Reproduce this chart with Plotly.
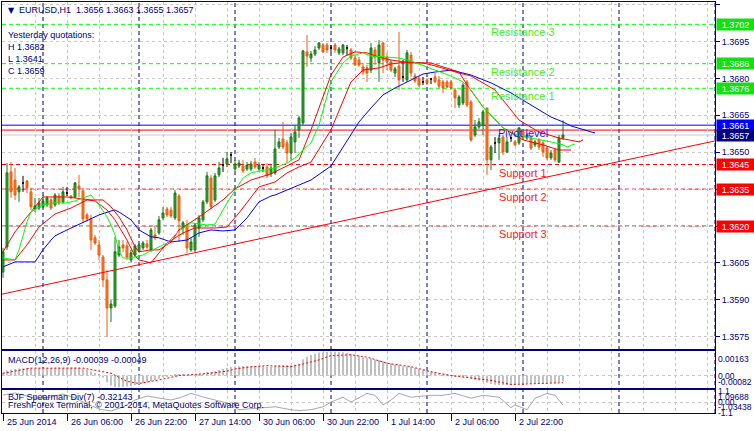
import plotly.graph_objects as go
from datetime import datetime, timedelta

# ---------------- data (EURUSD H1) ----------------
opens = [1.36013, 1.36115, 1.36420, 1.36387, 1.36339, 1.36375, 1.36383, 1.36339, 1.36269, 1.36273,
         1.36278, 1.36286, 1.36306, 1.36286, 1.36322, 1.36298, 1.36334, 1.36322, 1.36318, 1.36363,
         1.36343, 1.36245, 1.36229, 1.36152, 1.36123, 1.36074, 1.35981, 1.35867, 1.35875, 1.36082,
         1.36123, 1.36119, 1.36062, 1.36082, 1.36099, 1.36111, 1.36127, 1.36103, 1.36164, 1.36172,
         1.36233, 1.36269, 1.36265, 1.36233, 1.36322, 1.36192, 1.36204, 1.36103, 1.36103, 1.36192,
         1.36225, 1.36298, 1.36395, 1.36306, 1.36408, 1.36448, 1.36452, 1.36489, 1.36432, 1.36444,
         1.36444, 1.36432, 1.36432, 1.36460, 1.36432, 1.36436, 1.36440, 1.36412, 1.36416, 1.36521,
         1.36554, 1.36538, 1.36497, 1.36542, 1.36591, 1.36619, 1.36908, 1.36883, 1.36899, 1.36924,
         1.36936, 1.36936, 1.36924, 1.36936, 1.36904, 1.36904, 1.36924, 1.36916, 1.36883, 1.36875,
         1.36847, 1.36843, 1.36834, 1.36916, 1.36863, 1.36944, 1.36887, 1.36867, 1.36822, 1.36851,
         1.36806, 1.36794, 1.36895, 1.36810, 1.36802, 1.36786, 1.36794, 1.36798, 1.36806, 1.36794,
         1.36786, 1.36786, 1.36786, 1.36753, 1.36692, 1.36700, 1.36786, 1.36704, 1.36570, 1.36603,
         1.36611, 1.36680, 1.36469, 1.36538, 1.36538, 1.36562, 1.36501, 1.36558, 1.36542, 1.36538,
         1.36582, 1.36558, 1.36558, 1.36530, 1.36550, 1.36538, 1.36517, 1.36477, 1.36509, 1.36460,
         1.36560]
highs = [1.36111, 1.36456, 1.36460, 1.36436, 1.36367, 1.36404, 1.36387, 1.36355, 1.36314, 1.36314,
         1.36326, 1.36322, 1.36314, 1.36334, 1.36334, 1.36359, 1.36359, 1.36326, 1.36379, 1.36408,
         1.36355, 1.36253, 1.36245, 1.36164, 1.36143, 1.36082, 1.36021, 1.35899, 1.36156, 1.36143,
         1.36143, 1.36135, 1.36103, 1.36127, 1.36131, 1.36139, 1.36143, 1.36192, 1.36204, 1.36241,
         1.36278, 1.36278, 1.36278, 1.36347, 1.36330, 1.36221, 1.36225, 1.36152, 1.36213, 1.36245,
         1.36306, 1.36420, 1.36408, 1.36416, 1.36460, 1.36477, 1.36501, 1.36501, 1.36469, 1.36469,
         1.36469, 1.36460, 1.36465, 1.36477, 1.36460, 1.36452, 1.36456, 1.36448, 1.36591, 1.36558,
         1.36623, 1.36550, 1.36578, 1.36611, 1.36647, 1.36916, 1.36977, 1.36912, 1.36932, 1.36948,
         1.36944, 1.36944, 1.36936, 1.36944, 1.36928, 1.36940, 1.36936, 1.36924, 1.36895, 1.36887,
         1.36863, 1.36855, 1.36944, 1.36928, 1.36956, 1.36948, 1.36904, 1.36875, 1.36847, 1.36989,
         1.36875, 1.36916, 1.36908, 1.36822, 1.36806, 1.36806, 1.36802, 1.36802, 1.36822, 1.36810,
         1.36794, 1.36794, 1.36794, 1.36761, 1.36733, 1.36782, 1.36794, 1.36712, 1.36631, 1.36639,
         1.36672, 1.36680, 1.36530, 1.36562, 1.36570, 1.36570, 1.36562, 1.36562, 1.36550, 1.36603,
         1.36591, 1.36578, 1.36570, 1.36550, 1.36558, 1.36550, 1.36525, 1.36509, 1.36517, 1.36570,
         1.36630]
lows = [1.35989, 1.36103, 1.36314, 1.36306, 1.36298, 1.36339, 1.36334, 1.36265, 1.36257, 1.36265,
        1.36273, 1.36278, 1.36265, 1.36278, 1.36286, 1.36290, 1.36322, 1.36310, 1.36314, 1.36318,
        1.36213, 1.36217, 1.36103, 1.36123, 1.36062, 1.35952, 1.35749, 1.35810, 1.35867, 1.36074,
        1.36095, 1.36062, 1.36054, 1.36074, 1.36091, 1.36103, 1.36107, 1.36095, 1.36143, 1.36164,
        1.36225, 1.36237, 1.36233, 1.36225, 1.36135, 1.36164, 1.36091, 1.36095, 1.36091, 1.36156,
        1.36217, 1.36290, 1.36269, 1.36298, 1.36399, 1.36420, 1.36440, 1.36456, 1.36424, 1.36436,
        1.36416, 1.36424, 1.36424, 1.36432, 1.36424, 1.36420, 1.36395, 1.36399, 1.36408, 1.36513,
        1.36513, 1.36456, 1.36469, 1.36497, 1.36558, 1.36611, 1.36847, 1.36867, 1.36891, 1.36916,
        1.36904, 1.36904, 1.36908, 1.36904, 1.36895, 1.36895, 1.36895, 1.36875, 1.36851, 1.36847,
        1.36814, 1.36786, 1.36822, 1.36855, 1.36786, 1.36822, 1.36834, 1.36826, 1.36806, 1.36753,
        1.36786, 1.36786, 1.36806, 1.36782, 1.36765, 1.36773, 1.36773, 1.36777, 1.36782, 1.36761,
        1.36741, 1.36761, 1.36753, 1.36680, 1.36680, 1.36692, 1.36684, 1.36542, 1.36562, 1.36595,
        1.36570, 1.36408, 1.36428, 1.36497, 1.36469, 1.36489, 1.36497, 1.36542, 1.36525, 1.36530,
        1.36550, 1.36550, 1.36509, 1.36521, 1.36509, 1.36481, 1.36469, 1.36469, 1.36460, 1.36456,
        1.36550]
closes = [1.36095, 1.36416, 1.36339, 1.36326, 1.36359, 1.36375, 1.36355, 1.36278, 1.36282, 1.36294,
          1.36302, 1.36314, 1.36273, 1.36326, 1.36294, 1.36339, 1.36334, 1.36314, 1.36375, 1.36351,
          1.36229, 1.36229, 1.36143, 1.36131, 1.36082, 1.35981, 1.35867, 1.35883, 1.36095, 1.36115,
          1.36111, 1.36074, 1.36091, 1.36119, 1.36123, 1.36131, 1.36115, 1.36184, 1.36152, 1.36225,
          1.36253, 1.36245, 1.36241, 1.36334, 1.36221, 1.36213, 1.36111, 1.36135, 1.36204, 1.36233,
          1.36298, 1.36404, 1.36278, 1.36404, 1.36436, 1.36448, 1.36473, 1.36489, 1.36452, 1.36456,
          1.36424, 1.36448, 1.36452, 1.36440, 1.36448, 1.36436, 1.36404, 1.36436, 1.36513, 1.36542,
          1.36521, 1.36497, 1.36562, 1.36582, 1.36639, 1.36912, 1.36891, 1.36899, 1.36916, 1.36944,
          1.36908, 1.36916, 1.36924, 1.36916, 1.36920, 1.36936, 1.36924, 1.36883, 1.36855, 1.36855,
          1.36826, 1.36822, 1.36924, 1.36887, 1.36936, 1.36875, 1.36867, 1.36834, 1.36839, 1.36794,
          1.36806, 1.36904, 1.36822, 1.36790, 1.36773, 1.36786, 1.36782, 1.36798, 1.36786, 1.36769,
          1.36761, 1.36765, 1.36761, 1.36721, 1.36725, 1.36773, 1.36692, 1.36550, 1.36603, 1.36623,
          1.36664, 1.36469, 1.36521, 1.36538, 1.36558, 1.36501, 1.36542, 1.36558, 1.36530, 1.36599,
          1.36558, 1.36570, 1.36517, 1.36542, 1.36521, 1.36501, 1.36477, 1.36497, 1.36469, 1.36558,
          1.36570]

# Alligator-style moving averages (bar index, value)
blue_i = [0, 3, 8, 10, 12, 13, 16, 20, 24, 27, 28, 29, 32, 34, 37, 39, 42, 46, 49, 52, 55, 58, 61, 64,
          67, 68, 71, 74, 77, 82, 85, 88, 89, 92, 95, 98, 102, 105, 108, 112, 117, 122, 127, 132, 137,
          140, 142, 148]
blue_v = [1.36034, 1.36054, 1.36054, 1.36103, 1.36143, 1.36160, 1.36184, 1.36213, 1.36245, 1.36261,
          1.36265, 1.36257, 1.36225, 1.36184, 1.36156, 1.36152, 1.36135, 1.36143, 1.36172, 1.36184,
          1.36180, 1.36184, 1.36233, 1.36298, 1.36322, 1.36326, 1.36347, 1.36367, 1.36387, 1.36444,
          1.36521, 1.36599, 1.36623, 1.36680, 1.36733, 1.36761, 1.36794, 1.36818, 1.36826, 1.36834,
          1.36814, 1.36782, 1.36741, 1.36692, 1.36643, 1.36623, 1.36607, 1.36578]
red_slow_i = [0, 3, 5, 6, 9, 13, 17, 21, 23, 26, 28, 31, 33, 34, 37, 41, 45, 48, 53, 56, 59, 62, 64, 68,
              71, 74, 77, 82, 85, 87, 90, 94, 97, 101, 105, 108, 114, 117, 123, 129, 134, 139, 144, 145]
red_slow_v = [1.36062, 1.36062, 1.36103, 1.36123, 1.36196, 1.36249, 1.36273, 1.36306, 1.36302, 1.36265,
              1.36225, 1.36143, 1.36078, 1.36062, 1.36050, 1.36131, 1.36172, 1.36192, 1.36192, 1.36196,
              1.36253, 1.36318, 1.36359, 1.36379, 1.36416, 1.36440, 1.36460, 1.36591, 1.36712, 1.36786,
              1.36834, 1.36843, 1.36859, 1.36867, 1.36863, 1.36851, 1.36822, 1.36810, 1.36753, 1.36631,
              1.36582, 1.36558, 1.36542, 1.36550]
red_fast_i = [0, 2, 3, 6, 10, 16, 22, 25, 27, 29, 31, 33, 34, 37, 39, 42, 44, 49, 55, 58, 62, 67, 74, 77,
              80, 82, 85, 88, 91, 94, 97, 102, 107, 111, 114, 116, 120, 125, 130, 135, 139, 142]
red_fast_v = [1.36095, 1.36152, 1.36176, 1.36237, 1.36318, 1.36318, 1.36306, 1.36306, 1.36278, 1.36237,
              1.36184, 1.36115, 1.36095, 1.36103, 1.36103, 1.36135, 1.36184, 1.36237, 1.36306, 1.36351,
              1.36387, 1.36412, 1.36469, 1.36591, 1.36725, 1.36814, 1.36887, 1.36908, 1.36904, 1.36887,
              1.36875, 1.36863, 1.36863, 1.36843, 1.36826, 1.36774, 1.36684, 1.36599, 1.36550, 1.36530,
              1.36509, 1.36509]
green_i = [0, 3, 4, 5, 6, 7, 10, 13, 16, 18, 21, 22, 24, 26, 27, 28, 29, 30, 32, 35, 37, 41, 44, 47, 51,
           53, 56, 58, 60, 62, 66, 68, 71, 73, 75, 77, 79, 81, 82, 85, 87, 90, 92, 96, 99, 102, 106, 109,
           112, 115, 117, 120, 122, 125, 128, 132, 135, 137, 140, 141, 143]
green_v = [1.36070, 1.36062, 1.36103, 1.36164, 1.36217, 1.36257, 1.36286, 1.36294, 1.36294, 1.36302,
           1.36322, 1.36326, 1.36286, 1.36237, 1.36204, 1.36164, 1.36095, 1.36070, 1.36070, 1.36082,
           1.36099, 1.36131, 1.36180, 1.36213, 1.36204, 1.36208, 1.36294, 1.36347, 1.36395, 1.36416,
           1.36428, 1.36436, 1.36456, 1.36477, 1.36509, 1.36538, 1.36611, 1.36725, 1.36786, 1.36863,
           1.36891, 1.36904, 1.36891, 1.36887, 1.36883, 1.36871, 1.36847, 1.36826, 1.36810, 1.36786,
           1.36753, 1.36684, 1.36652, 1.36599, 1.36574, 1.36558, 1.36550, 1.36542, 1.36530, 1.36521,
           1.36534]

# trend line (bar index, price)
trend_i = [-0.25, 178.0]
trend_v = [1.35923, 1.36546]

# pivot levels
res_names = ["Resistance 3", "Resistance 2", "Resistance 1"]
res_levels = [1.3702, 1.3686, 1.3676]
sup_names = ["Support 1", "Support 2", "Support 3"]
sup_levels = [1.3645, 1.3635, 1.3620]
pivot_level = 1.3661
yest_close = 1.3659
bid_price = 1.3657

# MACD(12,26,9)
macd_main = [0.00020, 0.00035, 0.00042, 0.00045, 0.00048, 0.00050, 0.00052, 0.00052, 0.00050, 0.00050,
             0.00050, 0.00052, 0.00052, 0.00053, 0.00054, 0.00054, 0.00054, 0.00055, 0.00055, 0.00054,
             0.00045, 0.00038, 0.00028, 0.00018, 0.00005, -0.00015, -0.00045, -0.00070, -0.00078, -0.00080,
             -0.00078, -0.00075, -0.00072, -0.00066, -0.00060, -0.00055, -0.00048, -0.00038, -0.00030, -0.00022,
             -0.00012, -0.00005, 0.00002, 0.00010, 0.00008, 0.00008, 0.00002, -0.00002, 0.00002, 0.00008,
             0.00015, 0.00024, 0.00022, 0.00030, 0.00038, 0.00045, 0.00052, 0.00058, 0.00062, 0.00064,
             0.00066, 0.00066, 0.00066, 0.00066, 0.00065, 0.00064, 0.00062, 0.00060, 0.00066, 0.00070,
             0.00072, 0.00070, 0.00072, 0.00076, 0.00080, 0.00110, 0.00128, 0.00140, 0.00150, 0.00158,
             0.00160, 0.00162, 0.00163, 0.00163, 0.00162, 0.00160, 0.00156, 0.00150, 0.00142, 0.00135,
             0.00126, 0.00118, 0.00116, 0.00110, 0.00106, 0.00100, 0.00092, 0.00084, 0.00076, 0.00070,
             0.00064, 0.00062, 0.00058, 0.00052, 0.00046, 0.00040, 0.00034, 0.00028, 0.00022, 0.00017,
             0.00012, 0.00006, 0.00002, -0.00004, -0.00010, -0.00012, -0.00016, -0.00024, -0.00030, -0.00034,
             -0.00040, -0.00050, -0.00058, -0.00062, -0.00064, -0.00066, -0.00066, -0.00064, -0.00062, -0.00056,
             -0.00056, -0.00054, -0.00054, -0.00053, -0.00052, -0.00052, -0.00052, -0.00050, -0.00050, -0.00044,
             -0.00039]
sig_i = [0, 7, 20, 27, 31, 34, 39, 44, 51, 56, 58, 62, 66, 72, 74, 79, 82, 87, 91, 96, 102, 107, 112, 117,
         122, 127, 132, 140]
sig_v = [0.00016, 0.00051, 0.00051, 0.00016, -0.00040, -0.00054, -0.00030, 0.00000, 0.00014, 0.00030,
         0.00045, 0.00060, 0.00068, 0.00061, 0.00072, 0.00107, 0.00137, 0.00142, 0.00126, 0.00084,
         0.00061, 0.00026, 0.00000, -0.00016, -0.00033, -0.00061, -0.00056, -0.00049]

# BJF Spearman Div(7)
sp_i = [0, 3, 6, 9, 12, 15, 18, 21, 24, 27, 30, 33, 36, 39, 42, 44, 47, 51, 56, 59, 64, 68, 72, 74, 77,
        80, 82, 85, 87, 91, 93, 95, 97, 99, 102, 107, 110, 113, 117, 120, 124, 127, 128, 131, 133, 136,
        138, 140]
sp_v = [0.7, 0.9, 0.6, 0.3, 0.5, 0.8, 0.4, -0.2, -0.7, -0.9, -0.5, 0.2, 0.6, 0.4, 0.2, 0.4, 0.86, 0.4,
        -0.1, -0.77, -0.57, -0.48, -0.77, -0.86, -0.77, -0.48, 0.0, 0.48, 0.0, 0.86, 0.67, -0.29, 0.19,
        0.86, 0.48, 0.67, 0.67, 0.86, 0.38, 0.67, 0.48, -0.57, -0.29, -0.77, 0.38, 0.86, 0.67, -0.32143]

# ---------------- figure ----------------
W, H = 754, 431
NAVY = "#000080"
GRID = "#C8C8C8"
FONT = "Liberation Sans"


def py(px):
    return (H - px) / H


times = []
t = datetime(2014, 6, 25, 14)
while len(times) < 180:
    if t.weekday() < 5:
        times.append(t)
    t += timedelta(hours=1)

n = len(closes)
idx = list(range(n))
XMAX = 178.0
dom_x = [2 / W, 715 / W]
dom_main = [py(349), py(1.7)]
dom_macd = [py(388), py(351)]
dom_sp = [py(413), py(390)]

fig = go.Figure()

nd = [i for i in idx if opens[i] != closes[i]]
dj = [i for i in idx if opens[i] == closes[i]]
fig.add_trace(go.Candlestick(
    x=nd, open=[opens[i] for i in nd], high=[highs[i] for i in nd],
    low=[lows[i] for i in nd], close=[closes[i] for i in nd],
    increasing=dict(line=dict(color="#177A17", width=1), fillcolor="#34A834"),
    decreasing=dict(line=dict(color="#EE5A10", width=1), fillcolor="#FF7A1C"),
    hoverinfo="skip", xaxis="x", yaxis="y"))
fig.add_trace(go.Candlestick(
    x=dj, open=[opens[i] for i in dj], high=[highs[i] for i in dj],
    low=[lows[i] for i in dj], close=[closes[i] for i in dj],
    increasing=dict(line=dict(color="black", width=1), fillcolor="black"),
    decreasing=dict(line=dict(color="black", width=1), fillcolor="black"),
    hoverinfo="skip", xaxis="x", yaxis="y"))

for xs, ys, col in [(blue_i, blue_v, "#0000FF"), (red_slow_i, red_slow_v, "#FF0000"),
                    (red_fast_i, red_fast_v, "#FF0000"), (green_i, green_v, "#00FF00"),
                    (trend_i, trend_v, "#FF0000")]:
    fig.add_trace(go.Scatter(x=xs, y=ys, mode="lines", line=dict(color=col, width=1),
                             hoverinfo="skip", xaxis="x", yaxis="y"))

fig.add_trace(go.Bar(x=idx, y=macd_main, width=0.3, marker=dict(color="#C0C0C0", line=dict(width=0)),
                     hoverinfo="skip", xaxis="x2", yaxis="y2"))
fig.add_trace(go.Scatter(x=sig_i, y=sig_v, mode="lines", line=dict(color="#FF0000", width=1, dash="2px,2px"),
                         hoverinfo="skip", xaxis="x2", yaxis="y2"))
fig.add_trace(go.Scatter(x=sp_i, y=sp_v, mode="lines", line=dict(color="#A8A8A8", width=1),
                         hoverinfo="skip", xaxis="x3", yaxis="y3"))

# ---------------- axes ----------------
label_idx = [i for i in range(0, n, 16)]
xcommon = dict(domain=dom_x, range=[-0.25, XMAX], showline=True, linecolor=NAVY, linewidth=1, mirror=True,
               tickmode="array", tickvals=label_idx, showgrid=True, gridcolor=GRID, griddash="3px,3px",
               gridwidth=1, zeroline=False,
               minor=dict(tickmode="linear", tick0=0, dtick=8, showgrid=True, gridcolor=GRID,
                          griddash="3px,3px", gridwidth=1, ticks=""))
fig.update_layout(
    xaxis=dict(**xcommon, anchor="y", showticklabels=False, ticks="", rangeslider=dict(visible=False)),
    xaxis2=dict(**xcommon, anchor="y2", matches="x", showticklabels=False, ticks=""),
    xaxis3=dict(**xcommon, anchor="y3", matches="x", showticklabels=False, ticks="outside",
                ticklen=7, tickcolor=NAVY),
    yaxis=dict(domain=dom_main, range=[1.35700, 1.37112], side="right", anchor="x",
               tickmode="linear", tick0=1.3575, dtick=0.0015, tickformat=".4f",
               ticks="outside", ticklen=4, tickcolor=NAVY,
               tickfont=dict(family=FONT, size=9, color=NAVY),
               showgrid=True, gridcolor=GRID, griddash="3px,3px", zeroline=False,
               showline=True, linecolor=NAVY, mirror=True),
    yaxis2=dict(domain=dom_macd, range=[-0.00085, 0.00168], side="right", anchor="x2",
                tickmode="array", tickvals=[0], showticklabels=False, ticks="",
                showgrid=True, gridcolor=GRID, griddash="3px,3px", zeroline=False,
                showline=True, linecolor=NAVY, mirror=True),
    yaxis3=dict(domain=dom_sp, range=[-1.1, 1.2], side="right", anchor="x3",
                tickmode="array", tickvals=[0, 1.1], showticklabels=False, ticks="",
                showgrid=True, gridcolor=GRID, griddash="3px,3px", zeroline=False,
                showline=True, linecolor=NAVY, mirror=True),
    width=W, height=H, margin=dict(l=0, r=0, t=0, b=0),
    paper_bgcolor="white", plot_bgcolor="white", showlegend=False,
    font=dict(family=FONT, size=9, color=NAVY),
)

# ---------------- shapes ----------------
shapes = []
# day separators
for i, tm in enumerate(times):
    if tm.hour == 0 and i <= XMAX:
        shapes.append(dict(type="line", xref="x", yref="paper", x0=i, x1=i, y0=dom_sp[0], y1=dom_main[1],
                           line=dict(color=NAVY, width=1, dash="4px,3px"), layer="below"))
for v in res_levels:
    shapes.append(dict(type="line", xref="x domain", x0=0, x1=1, yref="y", y0=v, y1=v,
                       line=dict(color="#00FF00", width=1, dash="4px,3px"), layer="below"))
for v in sup_levels:
    shapes.append(dict(type="line", xref="x domain", x0=0, x1=1, yref="y", y0=v, y1=v,
                       line=dict(color="#FF0000", width=1, dash="4px,3px"), layer="below"))
shapes.append(dict(type="line", xref="x domain", x0=0, x1=1, yref="y", y0=bid_price, y1=bid_price,
                   line=dict(color="#C8C8C8", width=1), layer="below"))
shapes.append(dict(type="line", xref="x domain", x0=0, x1=1, yref="y", y0=yest_close, y1=yest_close,
                   line=dict(color="#FF0000", width=1), layer="below"))
shapes.append(dict(type="line", xref="x domain", x0=0, x1=1, yref="y", y0=pivot_level, y1=pivot_level,
                   line=dict(color="#0000FF", width=1), layer="below"))
fig.update_layout(shapes=shapes)

# ---------------- annotations ----------------
ann = []


def txt(text, xpx, ypx, size=9, color=NAVY, **kw):
    d = dict(text=text, x=xpx / W, y=py(ypx), xref="paper", yref="paper", xanchor="left",
             yanchor="middle", showarrow=False, font=dict(family=FONT, size=size, color=color))
    d.update(kw)
    ann.append(d)


txt("▼", 6, 10, size=8, font=dict(family="DejaVu Sans", size=8, color=NAVY))
txt("EURUSD,H1  %.4f %.4f %.4f %.4f" % (opens[-1], highs[-1], lows[-1], closes[-1]), 17, 10)
txt("Yesterday quotations:", 6, 35)
txt("H 1.3682", 6, 47)
txt("L 1.3641", 6, 59)
txt("C %.4f" % yest_close, 6, 71)
txt("MACD(12,26,9) %.5f %.5f" % (macd_main[-1], sig_v[-1]), 6, 360)
txt("BJF Spearman Div(7) %.5f" % sp_v[-1], 6, 397)
txt("FreshForex Terminal, © 2001-2014, MetaQuotes Software Corp.", 6, 405)

# pivot labels
label_bar = [i for i, tm in enumerate(times) if tm.hour == 0][5]
for name, v in zip(res_names, res_levels):
    ann.append(dict(text=name, x=label_bar, xref="x", y=v, yref="y", xanchor="center", yanchor="top",
                    showarrow=False, font=dict(family=FONT, size=11, color="#44EE22")))
ann.append(dict(text="Pivot level", x=label_bar, xref="x", y=pivot_level, yref="y", xanchor="center",
                yanchor="top", showarrow=False, font=dict(family=FONT, size=11, color="#2020FF")))
for name, v in zip(sup_names, sup_levels):
    ann.append(dict(text=name, x=label_bar, xref="x", y=v, yref="y", xanchor="center", yanchor="top",
                    showarrow=False, font=dict(family=FONT, size=11, color="#FF2020")))

# price boxes on the right scale
boxes = [(v, "#11E011") for v in res_levels] + [(pivot_level, "#0000FF"), (bid_price, NAVY)] + \
        [(v, "#FF0000") for v in sup_levels]
for v, c in boxes:
    ann.append(dict(text="%.4f" % v, x=716 / W, xref="paper", y=v, yref="y", xanchor="left",
                    yanchor="middle", showarrow=False, bgcolor=c, width=37, height=11, borderpad=0,
                    align="center", font=dict(family=FONT, size=9, color="white")))

# sub-panel scale labels
for text, v, ys in [("0.00163", 0.00163, -7), ("0.00", 0.0, 0), ("-0.00082", -0.00082, 6)]:
    ann.append(dict(text=text, x=716 / W, xref="paper", y=v, yref="y2", yshift=ys, xanchor="left",
                    yanchor="middle", showarrow=False, font=dict(family=FONT, size=8.5, color=NAVY)))
for text, v, ys in [("1.1", 1.1, 0), ("1.09688", 1.09688, -6), ("0.00", 0.0, 0),
                    ("-1.03438", -1.03438, 5), ("-1.1", -1.1, 0)]:
    ann.append(dict(text=text, x=716 / W, xref="paper", y=v, yref="y3", yshift=ys, xanchor="left",
                    yanchor="middle", showarrow=False, font=dict(family=FONT, size=8.5, color=NAVY)))

# time labels
for i in label_idx:
    tm = times[i]
    lab = tm.strftime("%d %b %Y").lstrip("0") if i == 0 else "%d %s" % (tm.day, tm.strftime("%b %H:%M"))
    ann.append(dict(text=lab, x=i, xref="x3", y=py(422), yref="paper", xanchor="left", xshift=2,
                    yanchor="middle", showarrow=False, font=dict(family=FONT, size=9, color=NAVY)))

fig.update_layout(annotations=ann)
fig.write_html("out.html", config={"displayModeBar": False},
               post_script="document.body.style.margin='0';document.body.style.padding='0';")
